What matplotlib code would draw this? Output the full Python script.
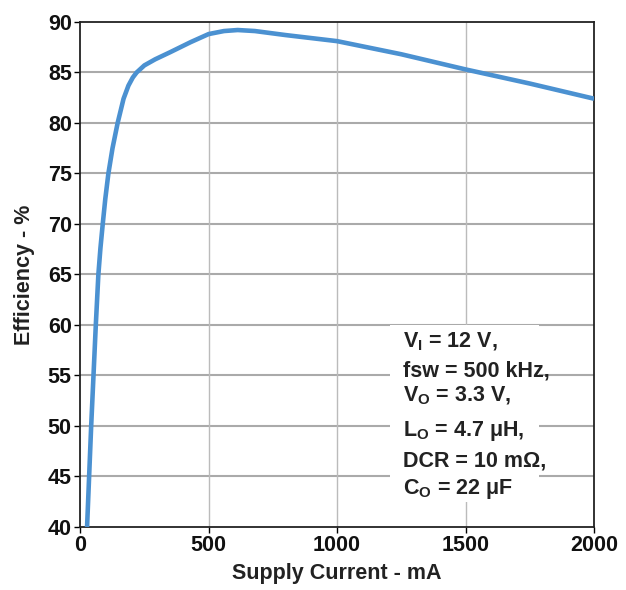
import matplotlib.pyplot as plt
import numpy as np

plt.rcParams['font.family'] = ['Liberation Sans', 'DejaVu Sans']
plt.rcParams['mathtext.fontset'] = 'custom'
plt.rcParams['mathtext.rm'] = 'Liberation Sans:bold'
plt.rcParams['mathtext.bf'] = 'Liberation Sans:bold'

# values
current_ma = [27, 35, 43, 52, 61, 71, 79, 88, 98, 110, 126, 146, 169, 188, 205, 220,
              250, 292, 350, 430, 500, 560, 613, 680, 800, 1000, 1250, 1500, 1750, 2000]
efficiency = [40.0, 45.0, 50.0, 55.0, 60.0, 65.0, 67.6, 70.0, 72.5, 75.0, 77.5, 80.0,
              82.4, 83.7, 84.5, 85.0, 85.7, 86.3, 87.0, 88.0, 88.8, 89.1, 89.2, 89.1, 88.7,
              88.1, 86.8, 85.3, 83.9, 82.4]

note_lines = [r"V$_\mathbf{I}$ = 12 V,",
              "fsw = 500 kHz,",
              r"V$_\mathbf{O}$ = 3.3 V,",
              r"L$_\mathbf{O}$ = 4.7 μH,",
              "DCR = 10 mΩ,",
              r"C$_\mathbf{O}$ = 22 μF"]

fig = plt.figure(figsize=(6.26, 5.9), dpi=100)
ax = fig.add_axes([0.128, 0.1068, 0.821, 0.856])

ax.plot(current_ma, efficiency, color='#4b91d1', linewidth=3.3, solid_capstyle='butt',
        solid_joinstyle='round', zorder=5)

ax.set_xlim(0, 2000)
ax.set_ylim(40, 90)
ax.set_xticks(np.arange(0, 2001, 500))
ax.set_yticks(np.arange(40, 91, 5))
for y in np.arange(45, 90, 5):
    ax.axhline(y, color='#aaaaaa', linewidth=1.5, zorder=1)
for x in [500, 1000, 1500]:
    ax.axvline(x, color='#bbbbbb', linewidth=1.0, zorder=1)

for s in ax.spines.values():
    s.set_linewidth(1.3)
    s.set_color('#222222')
ax.tick_params(direction='out', length=4, width=1, labelsize=15.5, pad=2,
               labelcolor='#111111')
for lab in ax.get_xticklabels() + ax.get_yticklabels():
    lab.set_fontweight('bold')

ax.set_xlabel('Supply Current - mA', fontsize=15.5, fontweight='bold', labelpad=5,
              color='#222222')
ax.set_ylabel('Efficiency - %', fontsize=15.5, fontweight='bold', labelpad=9,
              color='#222222')

# annotation box
ax.add_patch(plt.Rectangle((0.603, 0.049), 0.29, 0.351, transform=ax.transAxes,
                           facecolor='white', edgecolor='none', zorder=3))
ys = [0.366, 0.309, 0.26, 0.19, 0.131, 0.076]
for t, yy in zip(note_lines, ys):
    ax.text(0.628, yy, t, transform=ax.transAxes, fontsize=15.5, fontweight='bold',
            color='#222222', va='center', ha='left', zorder=4)

fig.savefig('out.png', dpi=100)
